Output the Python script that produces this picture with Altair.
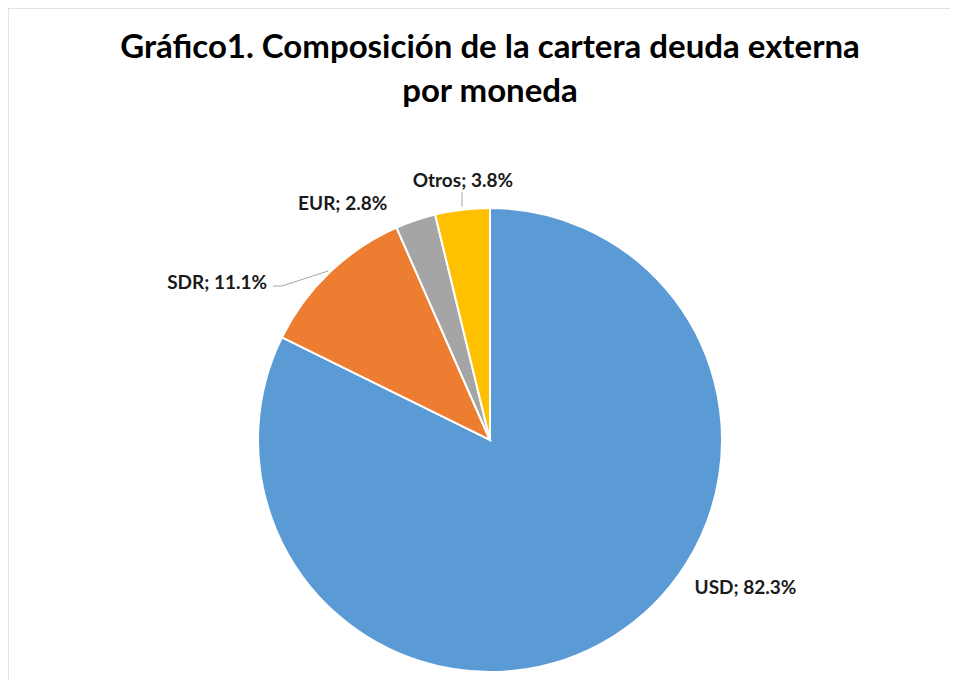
import math
import altair as alt
import pandas as pd

# ---- data ----
categories = ["USD", "SDR", "EUR", "Otros"]
shares = [82.3, 11.1, 2.8, 3.8]
colors = ["#5B9BD5", "#ED7D31", "#A5A5A5", "#FFC000"]
title_lines = ["Gráfico1. Composición de la cartera deuda externa", "por moneda"]

# ---- layout (not data) ----
W, H = 942, 672
CX, CY, R = 482, 432, 232
label_angle_deg = [120, 300, 328, 354]
label_radius = [295, 315, 278, 260]

df = pd.DataFrame({
    "cat": categories,
    "val": shares,
    "ord": list(range(len(categories))),
    "label": [f"{c}; {v:.1f}%" for c, v in zip(categories, shares)],
    "la": [math.radians(a) for a in label_angle_deg],
    "lr": label_radius,
})

# leader lines from slice midpoints (computed from values)
total = sum(shares)
cum = 0
mids = []
for v in shares:
    mids.append((cum + v / 2) / total * 2 * math.pi)
    cum += v

def edge(a, r):
    return CX + r * math.sin(a), CY - r * math.cos(a)

lead_rows = []
sx, sy = edge(mids[1], R + 2)
lead_rows += [
    {"g": "SDR", "i": 0, "x": sx, "y": sy},
    {"g": "SDR", "i": 1, "x": 274, "y": 278},
    {"g": "SDR", "i": 2, "x": 265, "y": 278},
]
ox, oy = edge(mids[3], R + 3)
lead_rows += [
    {"g": "Otros", "i": 0, "x": ox, "y": oy},
    {"g": "Otros", "i": 1, "x": ox, "y": 184},
]
lead = pd.DataFrame(lead_rows)

base = alt.Chart(df)

pie = base.mark_arc(stroke="white", strokeWidth=2).encode(
    theta=alt.Theta("val:Q", stack=True),
    order=alt.Order("ord:Q"),
    color=alt.Color("cat:N", scale=alt.Scale(domain=categories, range=colors), legend=None),
    x=alt.value(CX),
    y=alt.value(CY),
    radius=alt.value(R),
)

labels = base.mark_text(font="Lato", fontWeight="bold", fontSize=19, color="#1a1a1a",
                        align="center", baseline="middle").encode(
    text="label:N",
    x=alt.value(CX),
    y=alt.value(CY),
    theta=alt.Theta("la:Q", scale=None, stack=False),
    radius=alt.Radius("lr:Q", scale=None),
)

leaders = alt.Chart(lead).mark_line(color="#a6a6a6", strokeWidth=1).encode(
    x=alt.X("x:Q", scale=None),
    y=alt.Y("y:Q", scale=None),
    detail="g:N",
    order="i:Q",
)

one = pd.DataFrame({"k": [0]})
title = alt.Chart(one).mark_text(
    text=title_lines, lineHeight=44, font="Lato", fontWeight="bold", fontSize=33,
    color="#000000", align="center", baseline="alphabetic",
).encode(x=alt.value(CX), y=alt.value(50))

border = alt.Chart(one).mark_rule(color="#d9d9d9", strokeWidth=1.5).encode(
    x=alt.value(0), y=alt.value(0), y2=alt.value(H),
) + alt.Chart(one).mark_rule(color="#d9d9d9", strokeWidth=1.5).encode(
    x=alt.value(0), x2=alt.value(W), y=alt.value(0),
)

chart = alt.layer(border, pie, leaders, labels, title).properties(
    width=W,
    height=H,
    padding=0,
    autosize=alt.AutoSizeParams(type="none"),
).configure_view(stroke="transparent", strokeWidth=0)

chart.save("out.html", embed_options={"renderer": "svg", "actions": False})
